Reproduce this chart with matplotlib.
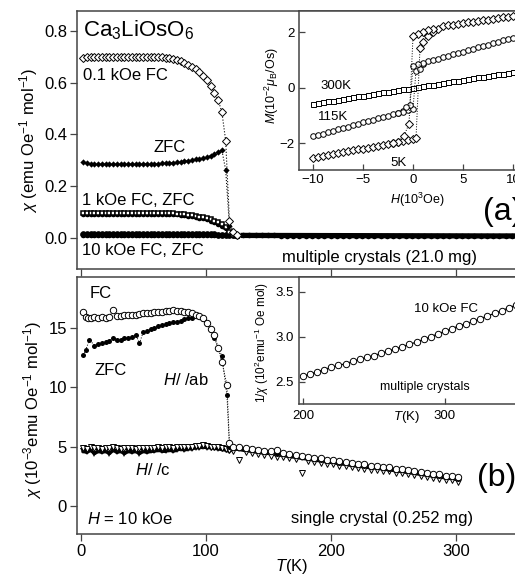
import matplotlib
matplotlib.use('Agg')
import matplotlib.pyplot as plt

plt.rcParams['font.family'] = ['Liberation Sans', 'DejaVu Sans']
plt.rcParams['mathtext.fontset'] = 'custom'
plt.rcParams['mathtext.rm'] = 'Liberation Sans'
plt.rcParams['mathtext.it'] = 'Liberation Sans:italic'
plt.rcParams['mathtext.bf'] = 'Liberation Sans:bold'

# ---------------- (a) multiple crystals, chi(T) ----------------
T_a = [2, 5, 8, 11, 14, 17, 20, 23, 26, 29, 32, 35, 38, 41, 44, 47, 50, 53, 56, 59,
       62, 65, 68, 71, 74, 77, 80, 83, 86, 89, 92, 95, 98, 101, 104, 107, 110, 113,
       116, 119, 122, 125]
fc_01 = [0.697, 0.699, 0.700, 0.700, 0.700, 0.700, 0.700, 0.700, 0.700, 0.700,
         0.700, 0.700, 0.700, 0.700, 0.700, 0.700, 0.700, 0.700, 0.700, 0.700,
         0.699, 0.698, 0.697, 0.695, 0.692, 0.688, 0.683, 0.677, 0.670, 0.662,
         0.652, 0.640, 0.626, 0.609, 0.588, 0.562, 0.533, 0.485, 0.375, 0.065,
         0.022, 0.012]
zfc_01 = [0.292, 0.288, 0.286, 0.285, 0.285, 0.285, 0.285, 0.285, 0.285, 0.285,
          0.285, 0.285, 0.285, 0.285, 0.285, 0.285, 0.285, 0.286, 0.286, 0.287,
          0.287, 0.288, 0.289, 0.290, 0.291, 0.292, 0.294, 0.296, 0.298, 0.300,
          0.303, 0.306, 0.309, 0.313, 0.318, 0.324, 0.331, 0.338, 0.262, 0.045,
          0.018, 0.010]
fc_1 = [0.096, 0.096, 0.096, 0.096, 0.096, 0.096, 0.096, 0.096, 0.096, 0.096,
        0.096, 0.096, 0.096, 0.096, 0.096, 0.096, 0.096, 0.096, 0.096, 0.096,
        0.096, 0.096, 0.095, 0.095, 0.094, 0.093, 0.092, 0.091, 0.089, 0.087,
        0.085, 0.082, 0.079, 0.075, 0.071, 0.066, 0.060, 0.052, 0.042, 0.022,
        0.010, 0.007]
zfc_1 = [0.093, 0.093, 0.093, 0.093, 0.093, 0.093, 0.093, 0.093, 0.093, 0.093,
         0.093, 0.093, 0.093, 0.093, 0.093, 0.093, 0.093, 0.093, 0.093, 0.093,
         0.093, 0.093, 0.093, 0.092, 0.092, 0.091, 0.090, 0.088, 0.086, 0.084,
         0.081, 0.078, 0.075, 0.071, 0.066, 0.061, 0.055, 0.047, 0.037, 0.018,
         0.009, 0.006]
fc_10 = [0.014, 0.014, 0.014, 0.014, 0.014, 0.014, 0.014, 0.014, 0.014, 0.014,
         0.014, 0.014, 0.014, 0.014, 0.014, 0.014, 0.014, 0.014, 0.014, 0.014,
         0.014, 0.014, 0.014, 0.014, 0.014, 0.014, 0.014, 0.014, 0.014, 0.014,
         0.014, 0.014, 0.0138, 0.0135, 0.0132, 0.0128, 0.0124, 0.0118, 0.0110,
         0.0102, 0.0096, 0.0093]
zfc_10 = [0.0125, 0.0125, 0.0125, 0.0125, 0.0125, 0.0125, 0.0125, 0.0125, 0.0125,
          0.0125, 0.0125, 0.0125, 0.0125, 0.0125, 0.0125, 0.0125, 0.0125, 0.0125,
          0.0125, 0.0125, 0.0125, 0.0125, 0.0125, 0.0125, 0.0125, 0.0125, 0.0125,
          0.0125, 0.0125, 0.0125, 0.0125, 0.0125, 0.0122, 0.0120, 0.0117, 0.0114,
          0.0110, 0.0105, 0.0098, 0.0092, 0.0088, 0.0086]
T_tail = [130, 135, 140, 145, 150, 155, 160, 165, 170, 175, 180, 185, 190, 195, 200,
          205, 210, 215, 220, 225, 230, 235, 240, 245, 250, 255, 260, 265, 270, 275,
          280, 285, 290, 295, 300, 305, 310, 315, 320, 325, 330, 335, 340, 345, 350,
          355]
tail_a = [0.0090, 0.0090, 0.0089, 0.0089, 0.0088, 0.0088, 0.0087, 0.0087, 0.0086,
          0.0086, 0.0085, 0.0085, 0.0084, 0.0084, 0.0083, 0.0083, 0.0082, 0.0082,
          0.0081, 0.0081, 0.0080, 0.0080, 0.0079, 0.0079, 0.0078, 0.0078, 0.0077,
          0.0077, 0.0076, 0.0076, 0.0075, 0.0075, 0.0074, 0.0074, 0.0073, 0.0073,
          0.0072, 0.0072, 0.0071, 0.0071, 0.0070, 0.0070, 0.0070, 0.0070, 0.0070,
          0.0070]

# inset (a): M(H) loops
H_full = [-10.0, -9.5, -9.0, -8.5, -8.0, -7.5, -7.0, -6.5, -6.0, -5.5, -5.0, -4.5,
          -4.0, -3.5, -3.0, -2.5, -2.0, -1.5, -1.0, -0.5, 0.0, 0.5, 1.0, 1.5, 2.0,
          2.5, 3.0, 3.5, 4.0, 4.5, 5.0, 5.5, 6.0, 6.5, 7.0, 7.5, 8.0, 8.5, 9.0, 9.5,
          10.0]
m_300 = [-0.57, -0.54, -0.51, -0.48, -0.46, -0.43, -0.40, -0.37, -0.34, -0.31,
         -0.29, -0.26, -0.23, -0.20, -0.17, -0.14, -0.11, -0.09, -0.06, -0.03, 0.00,
         0.03, 0.06, 0.09, 0.11, 0.14, 0.17, 0.20, 0.23, 0.26, 0.29, 0.31, 0.34,
         0.37, 0.40, 0.43, 0.46, 0.48, 0.51, 0.54, 0.57]
H_lo = [-10.0, -9.5, -9.0, -8.5, -8.0, -7.5, -7.0, -6.5, -6.0, -5.5, -5.0, -4.5,
        -4.0, -3.5, -3.0, -2.5, -2.0, -1.5, -1.0, -0.5, 0.0]
H_115_up = H_lo + [0.3, 0.7, 1.0, 1.5, 2.0, 2.5, 3.0, 3.5, 4.0, 4.5, 5.0, 5.5, 6.0,
                   6.5, 7.0, 7.5, 8.0, 8.5, 9.0, 9.5, 10.0]
m_115_up = [-1.75, -1.70, -1.65, -1.60, -1.55, -1.50, -1.45, -1.40, -1.35, -1.30,
            -1.25, -1.20, -1.15, -1.10, -1.05, -1.00, -0.95, -0.90, -0.85, -0.80,
            -0.75, 0.62, 0.68, 0.86, 0.95, 1.00, 1.05, 1.10, 1.15, 1.20, 1.25, 1.30,
            1.35, 1.40, 1.45, 1.50, 1.55, 1.60, 1.65, 1.70, 1.75, 1.80]
H_115_dn = [1.0, 0.5, 0.0, -0.3, -0.7, -1.0, -1.5]
m_115_dn = [0.90, 0.85, 0.80, -0.62, -0.68, -0.86, -0.90]
H_5_up = H_lo + [0.3, 0.7, 1.0, 1.5, 2.0, 2.5, 3.0, 3.5, 4.0, 4.5, 5.0, 5.5, 6.0,
                 6.5, 7.0, 7.5, 8.0, 8.5, 9.0, 9.5, 10.0]
m_5_up = [-2.52, -2.49, -2.45, -2.42, -2.39, -2.35, -2.32, -2.29, -2.25, -2.22,
          -2.19, -2.15, -2.12, -2.08, -2.05, -2.02, -1.98, -1.95, -1.92, -1.88,
          -1.85, -1.82, 1.44, 1.66, 1.86, 2.02, 2.12, 2.21, 2.24, 2.27, 2.30, 2.33,
          2.35, 2.38, 2.40, 2.43, 2.45, 2.48, 2.50, 2.53, 2.55, 2.58]
H_5_dn = [2.0, 1.5, 1.0, 0.5, 0.0, -0.4, -0.9, -1.5, -2.0]
m_5_dn = [2.13, 2.08, 2.02, 1.95, 1.86, -1.30, -1.72, -1.95, -1.98]

# ---------------- (b) single crystal, chi(T) in 1e-3 ----------------
T_ab_fc = [2, 4, 6, 8, 11, 14, 17, 20, 23, 26, 29, 32, 35, 38, 41, 44, 47, 50, 53,
           56, 59, 62, 65, 68, 71, 74, 77, 80, 83, 86, 89, 92, 95, 98, 101, 104, 107,
           110, 113, 117, 119]
ab_fc = [16.35, 15.9, 15.8, 15.8, 15.9, 15.8, 15.9, 15.85, 15.9, 16.5, 16.0, 16.0,
         16.05, 16.1, 16.1, 16.1, 16.15, 16.2, 16.2, 16.25, 16.3, 16.3, 16.35, 16.4,
         16.4, 16.45, 16.4, 16.4, 16.35, 16.3, 16.25, 16.1, 16.0, 15.8, 15.4, 14.9,
         14.4, 13.3, 12.1, 10.2, 5.3]
T_ab_zfc = [2, 4, 7, 11, 14, 17, 20, 23, 26, 29, 32, 35, 38, 41, 44, 47, 50, 53, 56,
            59, 62, 65, 68, 71, 74, 77, 80, 83, 86, 89, 92, 95, 98, 101, 104, 107,
            110, 113, 117, 119]
ab_zfc = [12.7, 13.1, 14.0, 13.5, 13.6, 13.7, 13.8, 13.9, 14.1, 14.0, 14.0, 14.1,
          14.1, 14.25, 14.4, 13.7, 14.6, 14.7, 14.9, 15.0, 15.15, 15.2, 15.3, 15.4,
          15.45, 15.5, 15.6, 15.7, 15.8, 15.85, 15.95, 15.9, 15.7, 15.3, 14.8, 14.1,
          13.3, 12.6, 9.3, 5.0]
T_c = [2, 5, 8, 11, 14, 17, 20, 23, 26, 29, 32, 35, 38, 41, 44, 47, 50, 53, 56, 59,
       62, 65, 68, 71, 74, 77, 80, 83, 86, 89, 92, 95, 98, 101, 104, 107, 110, 113,
       116, 119]
c_fc = [4.9, 4.8, 4.95, 4.85, 4.9, 4.8, 4.85, 4.9, 4.95, 4.85, 4.8, 4.85, 4.9, 4.85,
        4.8, 4.85, 4.9, 4.85, 4.9, 4.9, 4.95, 4.9, 4.95, 4.95, 4.9, 4.95, 5.0, 4.95,
        5.0, 5.0, 5.05, 5.05, 5.1, 5.05, 5.0, 5.0, 4.95, 4.9, 4.8, 4.7]
c_zfc = [4.6, 4.5, 4.7, 4.4, 4.6, 4.5, 4.6, 4.4, 4.7, 4.5, 4.6, 4.4, 4.6, 4.5, 4.6,
         4.4, 4.6, 4.5, 4.6, 4.6, 4.7, 4.6, 4.6, 4.7, 4.6, 4.7, 4.8, 4.7, 4.8, 4.8,
         4.9, 4.9, 4.95, 4.9, 4.9, 4.85, 4.8, 4.75, 4.7, 4.6]
T_b = [122, 127, 132, 137, 142, 147, 152, 157, 162, 167, 172, 177, 182, 187, 192,
       197, 202, 207, 212, 217, 222, 227, 232, 237, 242, 247, 252, 257, 262, 267,
       272, 277, 282, 287, 292, 297, 302]
ab_fc_tail = [5.0, 4.95, 4.85, 4.8, 4.7, 4.65, 4.6, 4.7, 4.45, 4.35, 4.3, 4.2, 4.15,
              4.05, 4.0, 3.9, 3.85, 3.75, 3.7, 3.6, 3.55, 3.5, 3.4, 3.4, 3.3, 3.25,
              3.15, 3.1, 3.0, 2.95, 2.85, 2.8, 2.7, 2.65, 2.55, 2.5, 2.4]
ab_zfc_tail = [4.9, 4.85, 4.75, 4.7, 4.6, 4.55, 4.5, 4.4, 4.35, 4.25, 4.2, 4.1,
               4.05, 3.95, 3.9, 3.8, 3.75, 3.65, 3.6, 3.5, 3.45, 3.4, 3.3, 3.3, 3.2,
               3.15, 3.05, 3.0, 2.9, 2.85, 2.75, 2.7, 2.6, 2.55, 2.45, 2.4, 2.3]
c_fc_tail = [4.6, 3.9, 4.5, 4.45, 4.35, 4.3, 4.2, 4.15, 4.1, 4.0, 3.95, 2.8, 3.8,
             3.7, 3.65, 3.55, 3.5, 3.4, 3.35, 3.25, 3.2, 3.15, 3.05, 3.0, 2.95, 2.9,
             2.8, 2.75, 2.65, 2.6, 2.5, 2.45, 2.35, 2.3, 2.2, 2.15, 2.05]
c_zfc_tail = [4.8, 4.75, 4.65, 4.6, 4.5, 4.45, 4.4, 4.3, 4.25, 4.15, 4.1, 4.0, 3.95,
              3.85, 3.8, 3.7, 3.65, 3.55, 3.5, 3.4, 3.35, 3.3, 3.2, 3.2, 3.1, 3.05,
              2.95, 2.9, 2.8, 2.75, 2.65, 2.6, 2.5, 2.45, 2.35, 2.3, 2.2]

# inset (b): 1/chi, 10 kOe FC, multiple crystals
T_inv = [200, 205, 210, 215, 220, 225, 230, 235, 240, 245, 250, 255, 260, 265, 270,
         275, 280, 285, 290, 295, 300, 305, 310, 315, 320, 325, 330, 335, 340, 345,
         350]
inv_chi = [2.56, 2.585, 2.61, 2.635, 2.66, 2.68, 2.70, 2.725, 2.75, 2.77, 2.79,
           2.815, 2.84, 2.865, 2.89, 2.915, 2.94, 2.97, 3.00, 3.03, 3.06, 3.09, 3.12,
           3.145, 3.17, 3.20, 3.23, 3.26, 3.29, 3.32, 3.35]

SP = '#444444'

def style_spines(ax):
    for s in ax.spines.values():
        s.set_color(SP)
        s.set_linewidth(1.1)

fig = plt.figure(figsize=(5.15, 5.75), dpi=100)
ax1 = fig.add_axes([0.1489, 0.5317, 0.8816, 0.4497])
ax2 = fig.add_axes([0.1489, 0.0713, 0.8816, 0.4475])
ins1 = fig.add_axes([0.5806, 0.7043, 0.4447, 0.2770])
ins2 = fig.add_axes([0.5806, 0.2974, 0.4293, 0.2214])

# ---- panel (a)
ax1.plot(T_a, zfc_10, '-o', ms=4, lw=2, color='k', mew=0)
ax1.plot(T_a, fc_10, 'o', ms=4.2, color='k', mfc='k', mew=0.5)
ax1.plot(T_tail, tail_a, '-o', ms=4, lw=3.8, color='k', mew=0)
ax1.plot(T_a, zfc_1, '-o', ms=4, lw=2, color='k', mew=0)
ax1.plot(T_a, fc_1, 's', ms=3.4, color='k', mfc='white', mew=1.1)
ax1.plot(T_a, zfc_01, ':', lw=0.8, color='k', marker='D', ms=3.2, mfc='k', mew=0)
ax1.plot(T_a, fc_01, ':', lw=0.8, color='k', marker='D', ms=4.5, mfc='white',
         mec='k', mew=0.7)
ax1.set_xlim(-3.2, 360)
ax1.set_ylim(-0.122, 0.879)
ax1.set_xticks([0, 100, 200, 300])
ax1.set_yticks([0.0, 0.2, 0.4, 0.6, 0.8])
ax1.set_yticklabels(['0.0', '0.2', '0.4', '0.6', '0.8'])
ax1.tick_params(direction='out', length=5, width=0.9, color=SP, labelsize=12,
                pad=1.5, labelbottom=False)
style_spines(ax1)

ax1.text(1.8, 0.778, r'Ca$_3$LiOsO$_6$', fontsize=16, va='baseline')
ax1.text(1.8, 0.610, '0.1 kOe FC', fontsize=12, va='baseline')
ax1.text(58, 0.333, 'ZFC', fontsize=12, va='baseline')
ax1.text(1.0, 0.1265, '1 kOe FC, ZFC', fontsize=12, va='baseline')
ax1.text(1.0, -0.067, '10 kOe FC, ZFC', fontsize=12, va='baseline')
ax1.text(317, -0.093, 'multiple crystals (21.0 mg)', fontsize=12, va='baseline',
         ha='right')
ax1.text(322, 0.10, '(a)', fontsize=23, va='center', ha='left')
fig.text(0.056, 0.7565, r'$\chi$ (emu Oe$^{-1}$ mol$^{-1}$)', rotation=90,
         fontsize=12, ha='center', va='center')

# ---- inset (a)
ins1.plot(H_full, m_300, ':', lw=0.7, color='k', marker='s', ms=3.6, mfc='white',
          mec='k', mew=0.7)
ins1.plot(H_115_up, m_115_up, ':', lw=0.7, color='k', marker='o', ms=4, mfc='white',
          mec='k', mew=0.7)
ins1.plot(H_115_dn, m_115_dn, ':', lw=0.7, color='k', marker='o', ms=4, mfc='white',
          mec='k', mew=0.7)
ins1.plot(H_5_up, m_5_up, ':', lw=0.7, color='k', marker='D', ms=4, mfc='white',
          mec='k', mew=0.7)
ins1.plot(H_5_dn, m_5_dn, ':', lw=0.7, color='k', marker='D', ms=4, mfc='white',
          mec='k', mew=0.7)
ins1.set_xlim(-11.4, 11.5)
ins1.set_ylim(-2.96, 2.77)
ins1.set_xticks([-10, -5, 0, 5, 10])
ins1.set_yticks([-2, 0, 2])
ins1.tick_params(direction='in', length=4, width=0.9, color=SP, labelsize=9.5,
                 pad=3)
style_spines(ins1)
ins1.text(-9.3, 0.06, '300K', fontsize=9.5, va='center')
ins1.text(-9.5, -1.07, '115K', fontsize=9.5, va='center')
ins1.text(-2.3, -2.72, '5K', fontsize=9.5, va='center')
ins1.text(0.515, -0.19, r'$H$(10$^3$Oe)', transform=ins1.transAxes, fontsize=9,
          ha='center', va='center')
fig.text(0.528, 0.852, r'$M$(10$^{-2}\mu_{\rm B}$/Os)', rotation=90, fontsize=9,
         ha='center', va='center')

# ---- panel (b)
ax2.plot(T_c + T_b, c_zfc + c_zfc_tail, '-v', lw=2.4, ms=4.2, color='k', mew=0)
ax2.plot(T_ab_zfc[-1:] + T_b, ab_zfc[-1:] + ab_zfc_tail, '-', lw=2.4, color='k')
ax2.plot(T_c + T_b, c_fc + c_fc_tail, 'v', ms=4.5, mfc='white', mec='k', mew=0.7)
ax2.plot(T_ab_zfc + T_b, ab_zfc + ab_zfc_tail, ':', lw=0.7, color='k', marker='o',
         ms=3.6, mew=0)
ax2.plot(T_ab_fc + T_b, ab_fc + ab_fc_tail, ':', lw=0.7, color='k', marker='o',
         ms=4.6, mfc='white', mec='k', mew=0.7)
ax2.set_xlim(-3.2, 360)
ax2.set_ylim(-2.36, 19.29)
ax2.set_xticks([0, 100, 200, 300])
ax2.set_yticks([0, 5, 10, 15])
ax2.tick_params(direction='out', length=5, width=0.9, color=SP, labelsize=12,
                pad=2)
style_spines(ax2)

ax2.text(7.4, 17.48, 'FC', fontsize=12, va='baseline')
ax2.text(11.4, 11.03, 'ZFC', fontsize=12, va='baseline')
ax2.text(66, 10.19, r'$H$/ /ab', fontsize=12, va='baseline')
ax2.text(43.5, 2.61, r'$H$/ /c', fontsize=12, va='baseline')
ax2.text(5, -1.55, r'$H$ = 10 kOe', fontsize=12, va='baseline')
ax2.text(314, -1.45, 'single crystal (0.252 mg)', fontsize=12, va='baseline',
         ha='right')
ax2.text(317, 2.36, '(b)', fontsize=23, va='center', ha='left')
ax2.text((292 - 76.7) / 454, -0.128, r'$T$(K)', transform=ax2.transAxes,
         fontsize=12, ha='center', va='center')
fig.text(0.064, 0.287, r'$\chi$ (10$^{-3}$emu Oe$^{-1}$ mol$^{-1}$)', rotation=90,
         fontsize=12, ha='center', va='center')

# ---- inset (b)
ins2.plot(T_inv, inv_chi, '-', lw=0.9, color='k', marker='o', ms=4.6, mfc='white',
          mec='k', mew=0.7)
ins2.set_xlim(197.2, 353)
ins2.set_ylim(2.252, 3.667)
ins2.set_xticks([200, 300])
ins2.set_yticks([2.5, 3.0, 3.5])
ins2.set_yticklabels(['2.5', '3.0', '3.5'])
ins2.tick_params(direction='in', length=4, width=0.9, color=SP, labelsize=9.5,
                 pad=4)
style_spines(ins2)
ins2.text(301, 3.278, '10 kOe FC', fontsize=9.5, ha='center', va='baseline')
ins2.text(286, 2.408, 'multiple crystals', fontsize=9, ha='center', va='baseline')
ins2.text(0.484, -0.102, r'$T$(K)', transform=ins2.transAxes, fontsize=9.5,
          ha='center', va='center')
fig.text(0.509, 0.4035, r'1/$\chi$ (10$^2$emu$^{-1}$ Oe mol)', rotation=90,
         fontsize=8.5, ha='center', va='center')

fig.savefig('out.png', dpi=100)
